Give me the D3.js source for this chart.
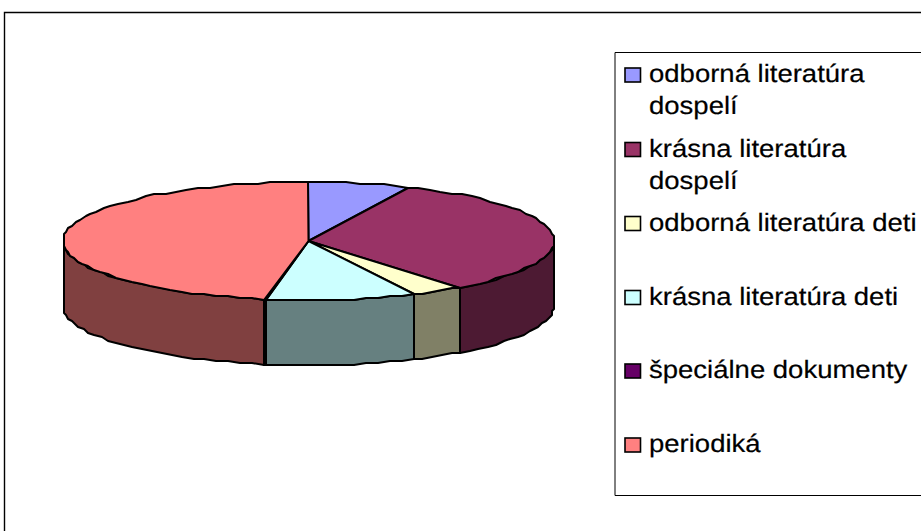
<!DOCTYPE html>
<html>
<head>
<meta charset="utf-8">
<script src="https://d3js.org/d3.v7.min.js"></script>
<style>
  html, body { margin: 0; padding: 0; background: #fff; overflow: hidden; }
  svg { display: block; }
  .legend text { font-family: "Liberation Sans", Arial, sans-serif; font-size: 25px; fill: #000; stroke: #000; stroke-width: 0.2px; text-rendering: geometricPrecision; }
</style>
</head>
<body>
<svg width="921" height="531"></svg>
<script>
var categories = ['odborná literatúra dospelí', 'krásna literatúra dospelí', 'odborná literatúra deti', 'krásna literatúra deti', 'špeciálne dokumenty', 'periodiká'];
var legendLines = [['odborná literatúra', 'dospelí'], ['krásna literatúra', 'dospelí'], ['odborná literatúra deti'], ['krásna literatúra deti'], ['špeciálne dokumenty'], ['periodiká']];
var shares = [6.6, 32.8, 3.6, 9.8, 0.05, 47.15];
var topColors = ['#9999ff', '#993366', '#ffffcc', '#ccffff', '#660066', '#ff8080'];
var wallColors = ['#4d4d80', '#4d1a33', '#808066', '#668080', '#330033', '#804040'];
var legendRows = [75, 149.5, 223.5, 297.5, 371, 445];

var svg = d3.select('svg');

// chart frame runs off the right and bottom of the picture
svg.append('path')
    .attr('d', 'M925,12.5H4.5V535')
    .attr('fill', 'none')
    .attr('stroke', '#000')
    .attr('stroke-width', 1.4);

var scaleX = d3.scaleLinear().domain([-1, 1]).range([63, 554]);
var scaleY = d3.scaleLinear().domain([-1, 1]).range([182, 300]);
var depth = 65;

var pie = d3.pie().sort(null).value(function (d) { return d; });
var arcs = pie(shares);

// snap to a coarse grid, the original rim is visibly stepped
function snap(v) { return Math.round(v / 2) * 2; }

function rim(a0, a1) {
    var n = Math.max(1, Math.ceil((a1 - a0) / (Math.PI / 60)));
    return d3.range(n + 1).map(function (i) {
        var a = a0 + (a1 - a0) * i / n;
        return [snap(scaleX(Math.sin(a))), snap(scaleY(-Math.cos(a)))];
    });
}

var line = d3.line();
var center = [scaleX(0), scaleY(0)];

// walls: only the front half of the rim shows
var walls = svg.append('g');
arcs.forEach(function (d, i) {
    var a0 = Math.max(d.startAngle, Math.PI / 2);
    var a1 = Math.min(d.endAngle, Math.PI * 1.5);
    if (a1 <= a0) return;
    var top = rim(a0, a1);
    var bottom = top.slice().reverse().map(function (p) { return [p[0], p[1] + depth]; });
    walls.append('path')
        .attr('d', line(top.concat(bottom)) + 'Z')
        .attr('fill', wallColors[i])
        .attr('stroke', '#000')
        .attr('stroke-width', 2)
        .attr('stroke-linejoin', 'round');
});

// top face
svg.append('g').selectAll('path')
    .data(arcs)
    .enter()
    .append('path')
    .attr('d', function (d) {
        return line([center].concat(rim(d.startAngle, d.endAngle))) + 'Z';
    })
    .attr('fill', function (d, i) { return topColors[i]; })
    .attr('stroke', '#000')
    .attr('stroke-width', 2)
    .attr('stroke-linejoin', 'round');

// legend box
svg.append('path')
    .attr('d', 'M925,52.5H615V495.5H925')
    .attr('fill', '#fff')
    .attr('stroke', '#000')
    .attr('stroke-width', 1);

var legend = svg.append('g').attr('class', 'legend');
var rows = legend.selectAll('g')
    .data(categories)
    .enter()
    .append('g')
    .attr('transform', function (d, i) { return 'translate(0,' + legendRows[i] + ')'; });

rows.append('rect')
    .attr('x', 625)
    .attr('y', -7)
    .attr('width', 15.5)
    .attr('height', 14)
    .attr('fill', function (d, i) { return topColors[i]; })
    .attr('stroke', '#000')
    .attr('stroke-width', 1.6);

rows.selectAll('text')
    .data(function (d, i) { return legendLines[i]; })
    .enter()
    .append('text')
    .attr('transform', function (d, j) { return 'translate(649,' + (7 + j * 32) + ') scale(1.1,1)'; })
    .text(function (d) { return d; });
</script>
</body>
</html>
